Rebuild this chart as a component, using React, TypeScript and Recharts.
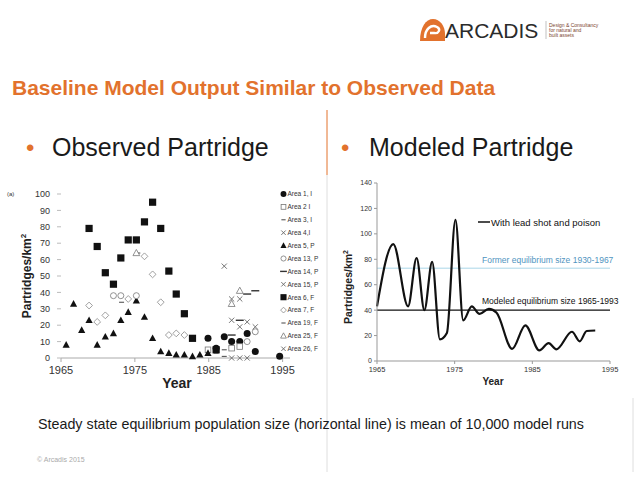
import React from "react";
import {
  ScatterChart,
  Scatter,
  LineChart,
  Line,
  XAxis,
  YAxis,
  ReferenceLine,
} from "recharts";

const FONT = '"Liberation Sans", Arial, Helvetica, sans-serif';
const ORANGE = "#e2722d";

// left panel: observed partridge densities (birds/km2)
const observedXTicks = [1965, 1975, 1985, 1995];
const observedYTicks = [0, 10, 20, 30, 40, 50, 60, 70, 80, 90, 100];

const area1Years = [1984.9, 1986.0, 1987.1, 1988.1, 1989.2, 1990.2, 1991.3, 1994.6];
const area1Values = [12, 6, 13, 10, 10, 15, 4, 1];
const area2Years = [1984.9, 1988.1, 1989.2];
const area2Values = [5, 6, 7];
const area3Years = [1986.0, 1987.1];
const area3Values = [3, 5];
const area4Years = [1988.1, 1989.2, 1990.2];
const area4Values = [0, 0, 0];
const area5Years = [
  1965.7, 1966.7, 1967.8, 1968.8, 1969.9, 1971.0, 1972.1, 1973.1, 1974.1, 1975.2,
  1976.3, 1977.4, 1978.5, 1979.6, 1980.6, 1981.7, 1982.8, 1983.8, 1984.9,
];
const area5Values = [8, 33, 17, 23, 8, 13, 15, 23, 28, 35, 25, 12, 4, 3, 2, 2, 1, 2, 3];
const area13Years = [1972.1, 1973.1, 1975.2, 1990.2, 1991.3];
const area13Values = [38, 38, 38, 10, 16];
const area14Years = [1988.1, 1989.2, 1990.2, 1991.3];
const area14Values = [14, 23, 39, 41];
const area15Years = [1988.1, 1989.2, 1990.2, 1991.3];
const area15Values = [23, 19, 22, 19];
const area6Years = [
  1968.8, 1969.9, 1971.0, 1972.1, 1973.1, 1974.1, 1975.2, 1976.3, 1977.4, 1978.5,
  1979.6, 1980.6, 1981.7, 1982.8, 1986.0,
];
const area6Values = [79, 68, 52, 45, 61, 72, 72, 83, 95, 79, 53, 39, 27, 12, 5];
const area7Years = [1968.8, 1969.9, 1971.0, 1974.1, 1976.3, 1977.4, 1978.5, 1979.6, 1980.6, 1981.7];
const area7Values = [32, 22, 26, 36, 62, 51, 34, 14, 15, 14];
const area19Years = [1973.2, 1975.4, 1987.1];
const area19Values = [34, 64, 1];
const area25Years = [1975.2, 1988.1, 1989.2];
const area25Values = [64, 33, 41];
const area26Years = [1987.1, 1988.1, 1989.2];
const area26Values = [56, 36, 36];

// right panel: modelled population
const modelXTicks = [1965, 1975, 1985, 1995];
const modelYTicks = [0, 20, 40, 60, 80, 100, 120, 140];
const modelYears = [
  1965, 1967.1, 1969, 1970.1, 1971.1, 1972.1, 1973.1, 1974, 1975.1, 1976.1, 1977.2,
  1978.2, 1979.4, 1980.4, 1982.4, 1984.1, 1985.9, 1987.1, 1988.1, 1990.1, 1991.1,
  1992, 1993.1,
];
const modelValues = [
  43, 92, 43, 81, 40, 78, 17, 22, 111, 32, 43, 37, 41, 38, 9.5, 28, 8.4, 14, 9.2, 23,
  15.5, 23.6, 24,
];
const formerEquilibrium = 73;
const modeledEquilibrium = 40;

const toPoints = (years: number[], values: number[]) =>
  years.map((x, i) => ({ x, y: values[i] }));

const observedSeries = [
  { name: "Area 1, I", kind: "dot", data: toPoints(area1Years, area1Values) },
  { name: "Area 2 I", kind: "openSquare", data: toPoints(area2Years, area2Values) },
  { name: "Area 3, I", kind: "dash", data: toPoints(area3Years, area3Values) },
  { name: "Area 4,I", kind: "cross", data: toPoints(area4Years, area4Values) },
  { name: "Area 5, P", kind: "triangle", data: toPoints(area5Years, area5Values) },
  { name: "Area 13, P", kind: "openCircle", data: toPoints(area13Years, area13Values) },
  { name: "Area 14, P", kind: "longDash", data: toPoints(area14Years, area14Values) },
  { name: "Area 15, P", kind: "cross", data: toPoints(area15Years, area15Values) },
  { name: "Area 6, F", kind: "square", data: toPoints(area6Years, area6Values) },
  { name: "Area 7, F", kind: "openDiamond", data: toPoints(area7Years, area7Values) },
  { name: "Area 19, F", kind: "dash", data: toPoints(area19Years, area19Values) },
  { name: "Area 25, F", kind: "openTriangle", data: toPoints(area25Years, area25Values) },
  { name: "Area 26, F", kind: "cross", data: toPoints(area26Years, area26Values) },
];

const modelData = modelYears.map((year, i) => ({ year, value: modelValues[i] }));

function Marker({ kind, cx, cy, s = 1 }: { kind: string; cx: number; cy: number; s?: number }) {
  if (cx == null || cy == null) return null;
  switch (kind) {
    case "dot":
      return <circle cx={cx} cy={cy} r={3.5 * s} fill="#111" />;
    case "openSquare":
      return <rect x={cx - 2.8 * s} y={cy - 2.8 * s} width={5.6 * s} height={5.6 * s} fill="#fff" stroke="#777" strokeWidth={0.8} />;
    case "dash":
      return <line x1={cx - 2.5 * s} x2={cx + 2.5 * s} y1={cy} y2={cy} stroke="#444" strokeWidth={1} />;
    case "longDash":
      return <line x1={cx - 4 * s} x2={cx + 4 * s} y1={cy} y2={cy} stroke="#333" strokeWidth={1.4} />;
    case "cross":
      return (
        <path
          d={`M${cx - 2.6 * s},${cy - 2.6 * s}L${cx + 2.6 * s},${cy + 2.6 * s}M${cx - 2.6 * s},${cy + 2.6 * s}L${cx + 2.6 * s},${cy - 2.6 * s}`}
          stroke="#666"
          strokeWidth={0.9}
          fill="none"
        />
      );
    case "triangle":
      return <polygon points={`${cx},${cy - 3.8 * s} ${cx + 3.6 * s},${cy + 2.8 * s} ${cx - 3.6 * s},${cy + 2.8 * s}`} fill="#111" />;
    case "openTriangle":
      return <polygon points={`${cx},${cy - 3.6 * s} ${cx + 3.4 * s},${cy + 2.6 * s} ${cx - 3.4 * s},${cy + 2.6 * s}`} fill="#fff" stroke="#777" strokeWidth={0.8} />;
    case "openCircle":
      return <circle cx={cx} cy={cy} r={3 * s} fill="#fff" stroke="#777" strokeWidth={0.8} />;
    case "square":
      return <rect x={cx - 3.6 * s} y={cy - 3.6 * s} width={7.2 * s} height={7.2 * s} fill="#111" />;
    case "openDiamond":
      return <polygon points={`${cx},${cy - 3.4 * s} ${cx + 3.4 * s},${cy} ${cx},${cy + 3.4 * s} ${cx - 3.4 * s},${cy}`} fill="#fff" stroke="#888" strokeWidth={0.8} />;
    default:
      return null;
  }
}

export default function App() {
  return (
    <div
      style={{
        position: "absolute",
        left: 0,
        top: 0,
        width: 638,
        height: 479,
        background: "#fff",
        overflow: "hidden",
        fontFamily: FONT,
      }}
    >
      {/* observed scatter */}
      <div style={{ position: "absolute", left: 0, top: 180 }}>
        <ScatterChart width={330} height={220} margin={{ top: 14, right: 40, bottom: 22, left: 31 }}>
          <XAxis
            type="number"
            dataKey="x"
            domain={[1965, 1996]}
            ticks={observedXTicks}
            allowDataOverflow
            height={20}
            stroke="#aaa"
            tickSize={4}
            tickMargin={4}
            tick={{ fill: "#333", fontSize: 11, fontFamily: FONT }}
          />
          <YAxis
            type="number"
            dataKey="y"
            domain={[0, 100]}
            ticks={observedYTicks}
            width={30}
            axisLine={false}
            tickLine={{ stroke: "#bbb" }}
            tickSize={4}
            tickMargin={7}
            tick={{ fill: "#333", fontSize: 9, fontFamily: FONT }}
          />
          {observedSeries.map((s) => (
            <Scatter
              key={s.name}
              name={s.name}
              data={s.data}
              isAnimationActive={false}
              shape={(p: any) => <Marker kind={s.kind} cx={p.cx} cy={p.cy} />}
            />
          ))}
        </ScatterChart>
      </div>

      {/* modelled line */}
      <div style={{ position: "absolute", left: 330, top: 170 }}>
        <LineChart width={300} height={220} data={modelData} margin={{ top: 13, right: 20, bottom: 13, left: 17 }}>
          <XAxis
            type="number"
            dataKey="year"
            domain={[1965, 1995]}
            ticks={modelXTicks}
            height={16}
            stroke="#999"
            tickSize={3}
            tickMargin={3}
            tick={{ fill: "#333", fontSize: 7.5, fontFamily: FONT }}
          />
          <YAxis
            type="number"
            domain={[0, 140]}
            ticks={modelYTicks}
            width={30}
            stroke="#999"
            tickSize={3}
            tickMargin={2}
            tick={{ fill: "#333", fontSize: 7, fontFamily: FONT }}
          />
          <ReferenceLine y={formerEquilibrium} stroke="#a9d6e8" strokeWidth={1} />
          <ReferenceLine y={modeledEquilibrium} stroke="#111" strokeWidth={1.4} />
          <Line
            type="monotone"
            dataKey="value"
            stroke="#111"
            strokeWidth={2.2}
            dot={false}
            isAnimationActive={false}
          />
        </LineChart>
      </div>

      {/* slide text and decorations */}
      <svg width={638} height={479} style={{ position: "absolute", left: 0, top: 0, pointerEvents: "none" }}>
        {/* logo */}
        <path d="M420,41 C420,27 426,19 433,19 C440,19 445,26 445,34 L445,41 Z" fill={ORANGE} />
        <path d="M425,38 C425,29 431,24 437,27 C441,29 439,34 434,33 L430,33" stroke="#fff" strokeWidth={2.4} fill="none" />
        <text x={445} y={37.5} fontSize={21} fill="#2b2b2b" fontFamily={FONT}>ARCADIS</text>
        <line x1={546} x2={546} y1={21} y2={39} stroke="#999" strokeWidth={0.6} />
        <text x={549} y={26.5} fontSize={5} fill="#7b3f2e" fontFamily={FONT}>Design &amp; Consultancy</text>
        <text x={549} y={31.5} fontSize={5} fill="#7b3f2e" fontFamily={FONT}>for natural and</text>
        <text x={549} y={36.5} fontSize={5} fill="#7b3f2e" fontFamily={FONT}>built assets</text>

        {/* title */}
        <text x={12} y={95} fontSize={21} fontWeight="bold" fill={ORANGE} fontFamily={FONT}>
          Baseline Model Output Similar to Observed Data
        </text>

        {/* divider */}
        <line x1={327} x2={327} y1={110} y2={175} stroke={ORANGE} strokeWidth={1} />
        <line x1={327} x2={327} y1={175} y2={472} stroke="#d6d6d6" strokeWidth={0.8} />
        <line x1={633} x2={633} y1={398} y2={472} stroke="#d6d6d6" strokeWidth={0.8} />

        {/* bullets */}
        <text x={26} y={156} fontSize={24} fill={ORANGE} fontFamily={FONT}>•</text>
        <text x={52} y={156} fontSize={25} fill="#1a1a1a" fontFamily={FONT}>Observed Partridge</text>
        <text x={341} y={156} fontSize={24} fill={ORANGE} fontFamily={FONT}>•</text>
        <text x={369} y={156} fontSize={25} fill="#1a1a1a" fontFamily={FONT}>Modeled Partridge</text>

        {/* left chart labels */}
        <text x={7} y={196} fontSize={6} fill="#333" fontFamily={FONT}>(a)</text>
        <text
          transform="translate(31,276) rotate(-90)"
          textAnchor="middle"
          fontSize={12}
          fontWeight="bold"
          fill="#222"
          fontFamily={FONT}
        >
          Partridges/km<tspan fontSize={8} dy={-5}>2</tspan>
        </text>
        <text x={177} y={388} textAnchor="middle" fontSize={14} fontWeight="bold" fill="#222" fontFamily={FONT}>
          Year
        </text>
        {observedSeries.map((s, i) => (
          <g key={s.name}>
            <Marker kind={s.kind} cx={283.5} cy={194 + i * 12.9} s={0.85} />
            <text x={287.5} y={196.3 + i * 12.9} fontSize={6.5} fill="#333" fontFamily={FONT}>
              {s.name}
            </text>
          </g>
        ))}

        {/* right chart labels */}
        <text
          transform="translate(351.5,287) rotate(-90)"
          textAnchor="middle"
          fontSize={10.5}
          fontWeight="bold"
          fill="#222"
          fontFamily={FONT}
        >
          Partridges/km<tspan fontSize={7} dy={-4}>2</tspan>
        </text>
        <text x={493} y={385} textAnchor="middle" fontSize={10} fontWeight="bold" fill="#222" fontFamily={FONT}>
          Year
        </text>
        <line x1={478} x2={490} y1={222} y2={222} stroke="#111" strokeWidth={1.5} />
        <text x={491} y={225.5} fontSize={9.5} fill="#111" fontFamily={FONT}>With lead shot and poison</text>
        <text x={482} y={263} fontSize={8.5} fill="#4f94c0" fontFamily={FONT}>Former equilibrium size 1930-1967</text>
        <text x={482} y={304} fontSize={8.5} fill="#111" fontFamily={FONT}>Modeled equilibrium size 1965-1993</text>

        {/* footer */}
        <text x={38} y={429} fontSize={14.3} fill="#1a1a1a" fontFamily={FONT}>
          Steady state equilibrium population size (horizontal line) is mean of 10,000 model runs
        </text>
        <text x={37} y={462} fontSize={7} fill="#aaa" fontFamily={FONT}>© Arcadis 2015</text>
      </svg>
    </div>
  );
}
